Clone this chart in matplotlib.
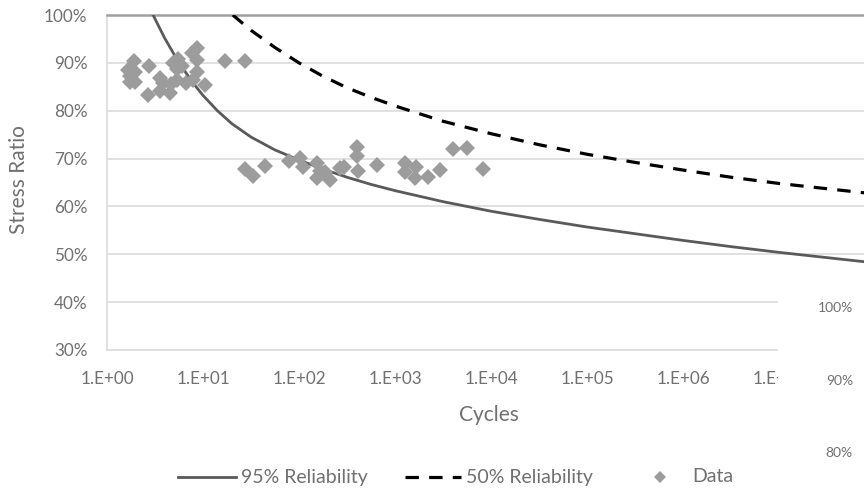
import numpy as np
import matplotlib
matplotlib.use("Agg")
import matplotlib.pyplot as plt
from matplotlib.lines import Line2D
from matplotlib.patches import Rectangle
from matplotlib.ticker import FuncFormatter, FixedLocator

plt.rcParams['font.family'] = ['Lato', 'DejaVu Sans']

# ---- data ----
rel95_logN = [0.48, 0.6, 0.75, 0.9, 1.0, 1.15, 1.3, 1.5, 1.75, 2.0, 2.25, 2.5, 2.75, 3.0,
              3.5, 4.0, 4.5, 5.0, 5.5, 6.0, 6.5, 7.0, 7.5, 8.0]
rel95_S = [1.000, 0.952, 0.900, 0.857, 0.832, 0.800, 0.773, 0.745, 0.718, 0.697, 0.678, 0.661,
           0.646, 0.633, 0.610, 0.590, 0.573, 0.557, 0.543, 0.529, 0.516, 0.504, 0.493, 0.482]

rel50_logN = [1.31, 1.5, 1.75, 2.0, 2.25, 2.5, 2.75, 3.0, 3.5, 4.0, 4.5, 5.0, 5.5, 6.0, 6.5,
              7.0, 7.5, 8.0]
rel50_S = [1.000, 0.968, 0.932, 0.900, 0.872, 0.848, 0.828, 0.810, 0.778, 0.752, 0.729, 0.709,
           0.692, 0.676, 0.661, 0.648, 0.637, 0.626]

data_N = [1.65, 1.74, 1.91, 1.96, 1.74, 1.96, 2.74, 2.67, 3.57, 3.83, 3.57, 4.64, 4.53, 5.36,
          4.87, 5.49, 6.04, 5.36, 6.64, 7.68, 8.66, 8.66, 8.66, 7.86, 10.5, 16.9, 27.4,
          27.4, 33.2, 44.2, 78.7, 102, 110, 154, 154, 165, 187, 210, 267, 294, 402, 402, 412, 649,
          1271, 1271, 1655, 1616, 2207, 2942, 4018, 5623, 8254]
data_S = [0.885, 0.873, 0.904, 0.881, 0.860, 0.860, 0.893, 0.833, 0.868, 0.858, 0.841, 0.856, 0.837,
          0.864, 0.900, 0.908, 0.893, 0.887, 0.858, 0.921, 0.931, 0.906, 0.881, 0.864, 0.854, 0.904,
          0.904,
          0.678, 0.664, 0.684, 0.695, 0.701, 0.682, 0.691, 0.660, 0.674, 0.672, 0.655, 0.680, 0.682,
          0.724, 0.705, 0.674, 0.687,
          0.691, 0.672, 0.682, 0.659, 0.662, 0.676, 0.720, 0.722, 0.678]

x_ticks = [1e0, 1e1, 1e2, 1e3, 1e4, 1e5, 1e6, 1e7]
x_tick_labels = ["1.E+00", "1.E+01", "1.E+02", "1.E+03", "1.E+04", "1.E+05", "1.E+06", "1.E+07"]
y_ticks = [0.3, 0.4, 0.5, 0.6, 0.7, 0.8, 0.9, 1.0]
legend_labels = ["95% Reliability", "50% Reliability", "Data"]
overlay_labels = ["100%", "90%", "80%"]

W, H = 864, 492
fig = plt.figure(figsize=(W / 100, H / 100), dpi=100)

def fx(x):
    return x / W

def fy(y):
    return 1 - y / H

ax = fig.add_axes([fx(107), fy(350), (875 - 107) / W, (350 - 15) / H])

text_col = '#707070'
grid_col = '#dcdcdc'
c95 = '#5a5a5a'
c50 = '#000000'
cdat = '#9c9c9c'

ax.plot(10 ** np.array(rel95_logN), rel95_S, color=c95, lw=2.0, zorder=3)
l50, = ax.plot(10 ** np.array(rel50_logN), rel50_S, color=c50, lw=2.3, zorder=3,
               dash_capstyle='butt')
l50.set_dashes([4.2, 3.2])
ax.plot(data_N, data_S, linestyle='none', marker='D', markersize=8, color=cdat,
        markeredgewidth=0, zorder=4)

ax.set_xscale('log')
ax.set_xlim(1, 1e8)
ax.set_ylim(0.3, 1.0)
ax.xaxis.set_major_locator(FixedLocator(x_ticks))
ax.set_xticklabels(x_tick_labels)
ax.xaxis.set_minor_locator(FixedLocator([]))
ax.set_yticks(y_ticks)
ax.yaxis.set_major_formatter(FuncFormatter(lambda v, p: f"{v * 100:.0f}%"))
ax.tick_params(axis='both', length=0, labelsize=12.3, labelcolor=text_col)
ax.tick_params(axis='y', pad=14)
ax.tick_params(axis='x', pad=15)
ax.grid(axis='y', color=grid_col, lw=1.2, zorder=0)
ax.set_axisbelow(True)
ax.spines['right'].set_visible(False)
ax.spines['left'].set_color(grid_col)
ax.spines['bottom'].set_color(grid_col)
ax.spines['left'].set_linewidth(1.2)
ax.spines['bottom'].set_linewidth(1.2)
ax.spines['top'].set_color('#a0a0a0')
ax.spines['top'].set_linewidth(1.8)

fig.text(fx(19), fy(180), "Stress Ratio", rotation=90, ha='center', va='center',
         fontsize=15, color=text_col)
fig.text(fx(489), fy(415), "Cycles", ha='center', va='center', fontsize=15, color=text_col)

# legend drawn manually
ly = fy(477)
lfs = 14
fig.add_artist(Line2D([fx(178), fx(236)], [ly, ly], color=c95, lw=2.0, transform=fig.transFigure))
fig.text(fx(241), ly, legend_labels[0], ha='left', va='center', fontsize=lfs, color=text_col)
dl = Line2D([fx(405), fx(461)], [ly, ly], color=c50, lw=2.3, transform=fig.transFigure,
            dash_capstyle='butt')
dl.set_dashes([4.2, 3.2])
fig.add_artist(dl)
fig.text(fx(466), ly, legend_labels[1], ha='left', va='center', fontsize=lfs, color=text_col)
fig.add_artist(Line2D([fx(660)], [ly], marker='D', markersize=6, color=cdat, markeredgewidth=0,
                      linestyle='none', transform=fig.transFigure))
fig.text(fx(692), ly, legend_labels[2], ha='left', va='center', fontsize=lfs, color=text_col)

# overlapping neighbouring chart (white area with its tick labels)
fig.add_artist(Rectangle((fx(778), 0), 1 - fx(778), fy(285), transform=fig.transFigure,
                         facecolor='white', edgecolor='none', zorder=10))
for lab, yy in zip(overlay_labels, [308, 381, 453]):
    fig.text(fx(853), fy(yy), lab, ha='right', va='center', fontsize=10, color=text_col, zorder=11)

fig.savefig("out.png", dpi=100)
